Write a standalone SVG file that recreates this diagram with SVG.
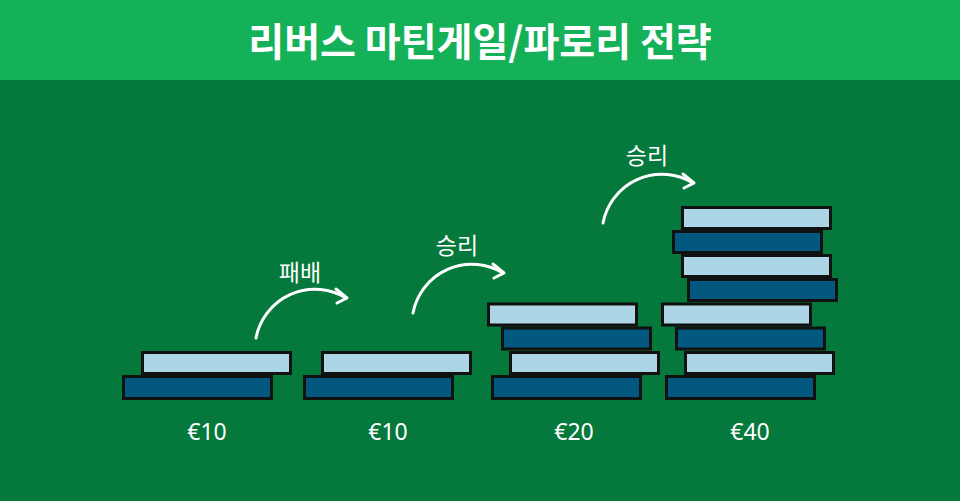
<svg xmlns="http://www.w3.org/2000/svg" width="960" height="501" viewBox="0 0 960 501">
<style>
.lt{fill:#acd6e6;stroke:#111;stroke-width:3}
.dk{fill:#02587f;stroke:#111;stroke-width:3}
.arc{fill:none;stroke:#fff;stroke-width:3;stroke-linecap:round;stroke-linejoin:round}
.lbl{font-family:"Noto Sans CJK KR","Noto Sans",sans-serif;fill:#fff;font-size:23px;text-anchor:middle}
.amt{font-family:"Noto Sans","Open Sans",sans-serif;fill:#fff;font-size:23px;text-anchor:middle}
.title{font-family:"Noto Sans CJK KR",sans-serif;fill:#fff;font-size:39px;font-weight:bold;text-anchor:middle}
</style>
<defs>
<g id="arrow">
<path class="arc" d="M0,0 A60,60 0 0 1 90,-40"/>
<polyline class="arc" points="80,-49 91,-40 81,-35"/>
</g>
</defs>
<rect x="0" y="0" width="960" height="501" fill="#04793b"/>
<g id="header">
<rect x="0" y="0" width="960" height="80" fill="#15b159"/>
<text class="title" x="480" y="56">리버스 마틴게일/파로리 전략</text>
</g>
<g id="stack1">
<rect class="lt" x="142.5" y="352.5" width="148" height="21"/>
<rect class="dk" x="123.5" y="376.5" width="148" height="22"/>
<text class="amt" x="207" y="440">€10</text>
</g>
<g id="stack2">
<rect class="lt" x="322.5" y="352.5" width="148" height="21"/>
<rect class="dk" x="304.5" y="376.5" width="148" height="22"/>
<text class="amt" x="388" y="440">€10</text>
</g>
<g id="stack3">
<rect class="lt" x="488.5" y="304" width="148" height="21"/>
<rect class="dk" x="502.5" y="328" width="148" height="21"/>
<rect class="lt" x="510.5" y="352.5" width="148" height="21"/>
<rect class="dk" x="492.5" y="376.5" width="148" height="22"/>
<text class="amt" x="574" y="440">€20</text>
</g>
<g id="stack4">
<rect class="lt" x="682.5" y="207.5" width="148" height="21"/>
<rect class="dk" x="673.5" y="231.5" width="148" height="21"/>
<rect class="lt" x="682.5" y="255.5" width="148" height="21"/>
<rect class="dk" x="688.5" y="279.5" width="148" height="21"/>
<rect class="lt" x="662.5" y="304" width="148" height="21"/>
<rect class="dk" x="676.5" y="328" width="148" height="21"/>
<rect class="lt" x="685.5" y="352.5" width="148" height="21"/>
<rect class="dk" x="666.5" y="376.5" width="148" height="22"/>
<text class="amt" x="750" y="440">€40</text>
</g>
<g id="connectors">
<use href="#arrow" transform="translate(256,338)"/>
<use href="#arrow" transform="translate(413,313)"/>
<use href="#arrow" transform="translate(603,223)"/>
</g>
<g id="labels">
<text class="lbl" x="300" y="281">패배</text>
<text class="lbl" x="457" y="254">승리</text>
<text class="lbl" x="647" y="164">승리</text>
</g>
</svg>
